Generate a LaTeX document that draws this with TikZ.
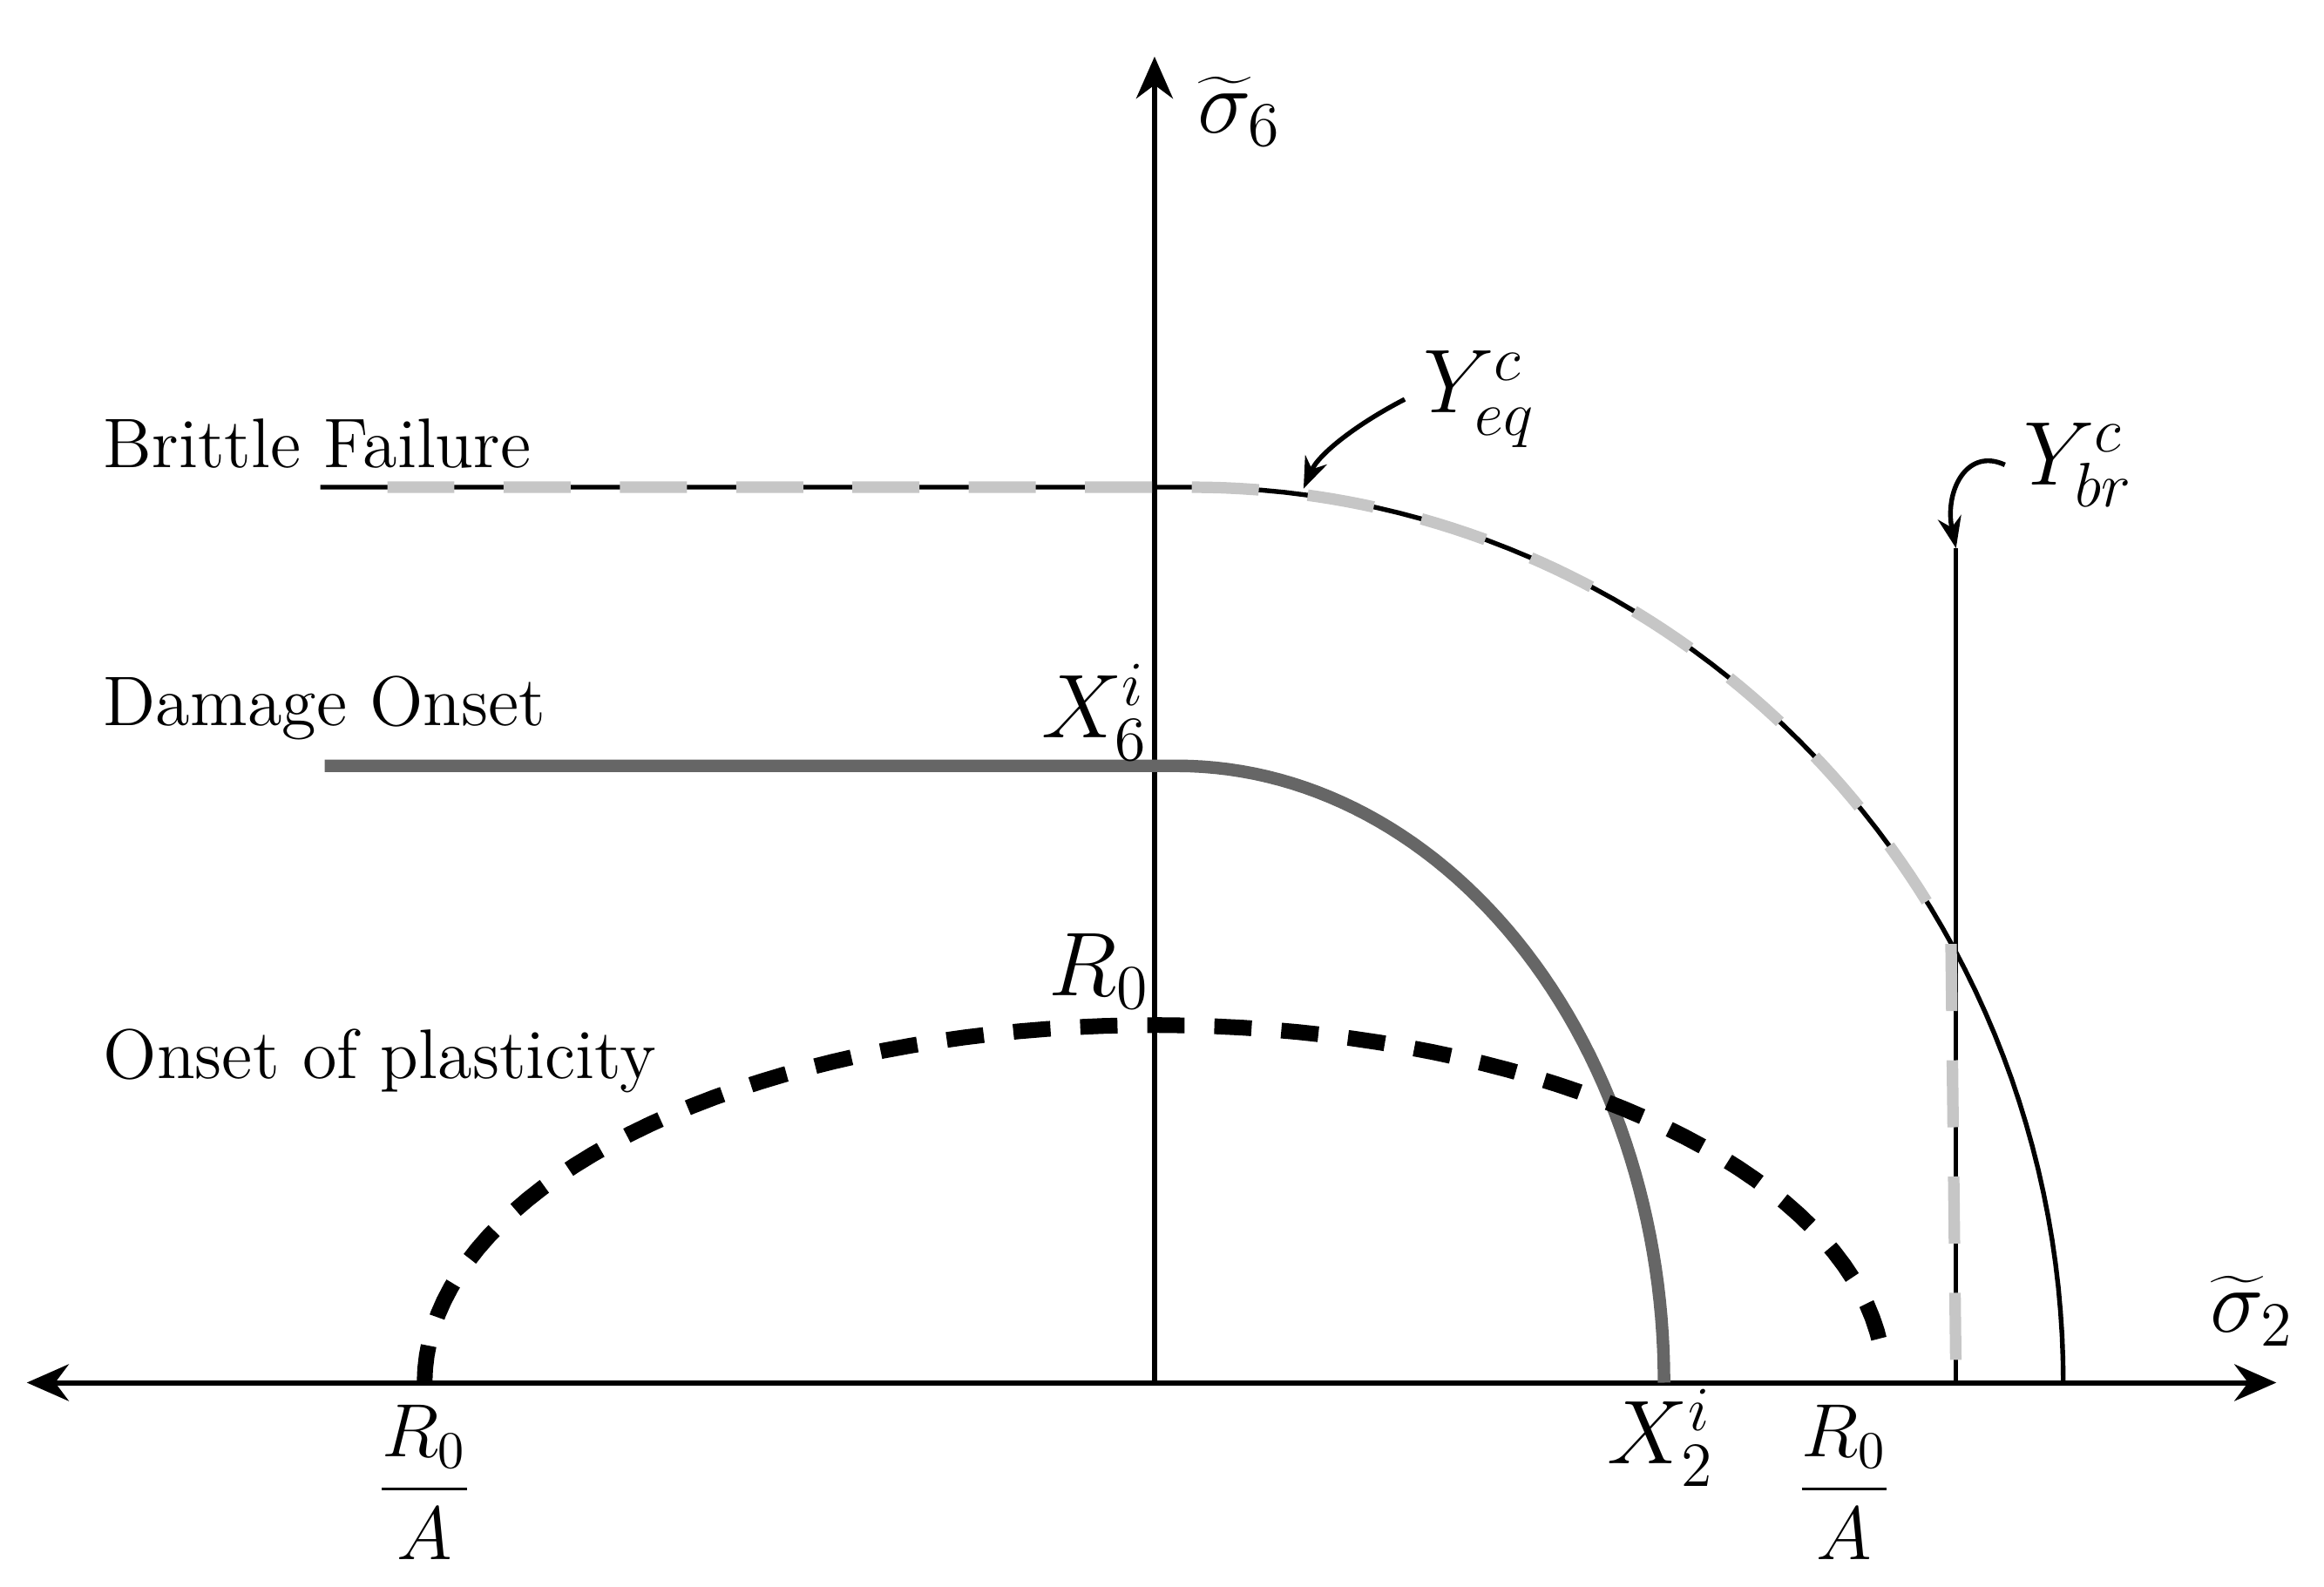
\documentclass[tikz,border=0pt]{standalone}
\usetikzlibrary{arrows.meta}
\begin{document}
\begin{tikzpicture}[x=0.01cm,y=-0.01cm,
  ax/.style={line width=1pt,-{Stealth[length=8pt,width=7pt]}},
  thinb/.style={line width=0.9pt,black},
  grayd/.style={line width=2.2pt,gray!45,dash pattern=on 0.45cm off 0.33cm},
  dmg/.style={line width=2.4pt,black!60},
  pls/.style={line width=3pt,black,dash pattern=on 0.25cm off 0.2cm},
  lab/.style={font=\fontsize{13.4}{16}\selectfont,anchor=west},
  mth/.style={font=\LARGE},
  frc/.style={font=\Large}]
\useasboundingbox (0,0) rectangle (1560,1065);
\coordinate (O) at (775,928);
\coordinate (L) at (18,928);
\coordinate (R) at (1528,928);
\coordinate (T) at (775,38);
\draw[ax] (O) -- (L);
\draw[ax] (O) -- (R);
\draw[ax] (O) -- (T);
\node[mth] (s6) at (832,75) {$\widetilde{\sigma}_6$};
\node[mth] (s2) at (1512,880) {$\widetilde{\sigma}_2$};
% brittle failure
\draw[thinb] (215,327) -- (800,327) plot[domain=90:0,samples=60,variable=\t] ({800+585*cos(\t)},{928-601*sin(\t)});
\draw[thinb] (1313,368) -- (1313,928);
\draw[grayd] (260,327) -- (800,327) plot[domain=90:29.4,samples=60,variable=\t] ({800+585*cos(\t)},{928-601*sin(\t)}) -- (1313,928);
% damage onset
\draw[dmg] (218,514) -- (790,514) plot[domain=90:0,samples=60,variable=\t] ({790+327*cos(\t)},{928-414*sin(\t)});
% plasticity
\draw[pls] plot[domain=180:6,samples=80,variable=\t] ({775+490*cos(\t)},{928-240*sin(\t)});
% labels
\node[lab] (bf) at (57,298) {Brittle Failure};
\node[lab] (do) at (57,475) {Damage Onset};
\node[lab] (op) at (57,712) {Onset of plasticity};
\node[mth] (yeq) at (993,268) {$Y^c_{eq}$};
\node[mth] (ybr) at (1395,312) {$Y^c_{br}$};
\coordinate (yeqt) at (875,328);
\coordinate (ybrt) at (1313,368);
\draw[line width=0.9pt,-{Stealth[length=6pt]}] (yeq.west) .. controls (910,285) and (885,305) .. (yeqt);
\draw[line width=0.9pt,-{Stealth[length=6pt]}] (ybr.west) .. controls (1320,300) and (1305,330) .. (ybrt);
\node[mth] (x6) at (735,478) {$X^i_6$};
\node[mth] (r0) at (738,652) {$R_0$};
\node[mth] (x2) at (1115,965) {$X^i_2$};
\node[frc] (ra1) at (285,995) {$\displaystyle\frac{R_0}{A}$};
\node[frc] (ra2) at (1238,995) {$\displaystyle\frac{R_0}{A}$};
\end{tikzpicture}
\end{document}
